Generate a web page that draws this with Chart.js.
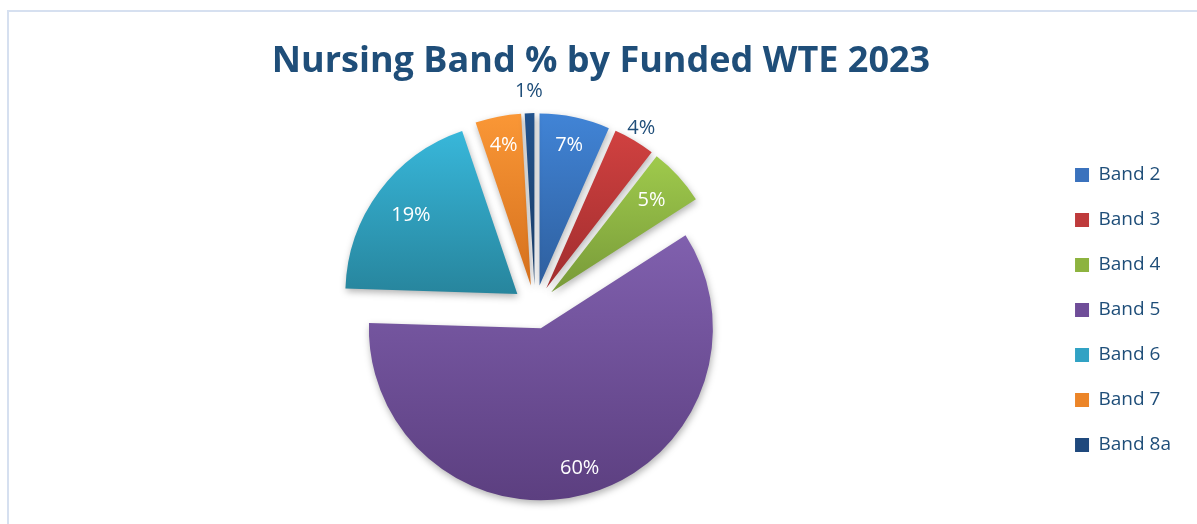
<!DOCTYPE html>
<html lang="en">
<head>
  <meta charset="UTF-8">
  <title>Nursing Band % by Funded WTE 2023</title>
  <script src="https://cdn.jsdelivr.net/npm/chart.js"></script>
  <style>
    body { margin: 0; overflow: hidden; background: #fff; }
    .frame {
      position: absolute;
      left: 7px;
      top: 10px;
      width: 1300px;
      height: 700px;
      border: 2px solid #d6e0f0;
    }
    .wrap { position: absolute; left: 0; top: 0; width: 1197px; height: 550px; }
  </style>
</head>
<body>
<div class="frame"></div>
<div class="wrap">
  <canvas id="myChart" width="1197" height="550"></canvas>
</div>

<script>
  // Data (share of funded WTE, %)
  const categories = ['Band 2', 'Band 3', 'Band 4', 'Band 5', 'Band 6', 'Band 7', 'Band 8a'];
  const shares = [6.6, 3.9, 5.4, 59.6, 19.3, 4.3, 0.9];

  // Styles
  const topColors = ['#4184d6', '#d04140', '#9fca4c', '#8060ae', '#38b7da', '#fa9736', '#22528c'];
  const bottomColors = ['#2e5f9e', '#a12d2e', '#789a39', '#5c3f80', '#27859d', '#d5701d', '#1a3d66'];
  const legendColors = ['#3a72bd', '#be3a3b', '#8db33f', '#6f4d98', '#31a2c4', '#ec8528', '#1f497d'];
  const labelRadius = [0.835, 1.08, 0.79, 0.845, 0.77, 0.83, 1.13];
  const EXPLODE = 22;
  const RADIUS = 172;
  const textBlue = '#1f4e79';

  const total = shares.reduce((a, b) => a + b, 0);

  function sliceAngles(i) {
    let before = 0;
    for (let k = 0; k < i; k++) before += shares[k];
    const a0 = -Math.PI / 2 + before / total * 2 * Math.PI;
    const a1 = a0 + shares[i] / total * 2 * Math.PI;
    return [a0, a1];
  }

  // vertical gradient across each slice, light at top and dark at bottom
  function sliceGradient(c) {
    const chart = c.chart;
    const area = chart.chartArea;
    const i = c.dataIndex;
    if (!area || i === undefined) return legendColors[i || 0];
    const cy = (area.top + area.bottom) / 2;
    const [a0, a1] = sliceAngles(i);
    const mid = (a0 + a1) / 2;
    const oy = cy + Math.sin(mid) * EXPLODE;
    let minY = oy, maxY = oy;
    for (let s = 0; s <= 40; s++) {
      const y = oy + Math.sin(a0 + (a1 - a0) * s / 40) * RADIUS;
      minY = Math.min(minY, y);
      maxY = Math.max(maxY, y);
    }
    const g = chart.ctx.createLinearGradient(0, minY, 0, maxY);
    g.addColorStop(0, topColors[i]);
    g.addColorStop(1, bottomColors[i]);
    return g;
  }

  // pull every slice out along its middle angle
  const explodePlugin = {
    id: 'explode',
    afterDatasetUpdate(chart) {
      chart.getDatasetMeta(0).data.forEach((arc) => {
        const mid = (arc.startAngle + arc.endAngle) / 2;
        arc.x += Math.cos(mid) * EXPLODE;
        arc.y += Math.sin(mid) * EXPLODE;
      });
    }
  };

  const shadowPlugin = {
    id: 'sliceShadow',
    beforeDatasetDraw(chart) {
      const ctx = chart.ctx;
      ctx.save();
      ctx.shadowColor = 'rgba(0, 0, 0, 0.3)';
      ctx.shadowBlur = 7;
      ctx.shadowOffsetX = 1;
      ctx.shadowOffsetY = 3;
    },
    afterDatasetDraw(chart) {
      chart.ctx.restore();
    }
  };

  const percentPlugin = {
    id: 'percentLabels',
    afterDatasetsDraw(chart) {
      const ctx = chart.ctx;
      ctx.save();
      ctx.font = '20px "Open Sans", sans-serif';
      ctx.textAlign = 'center';
      ctx.textBaseline = 'middle';
      chart.getDatasetMeta(0).data.forEach((arc, i) => {
        const mid = (arc.startAngle + arc.endAngle) / 2;
        const r = arc.outerRadius * labelRadius[i];
        ctx.fillStyle = labelRadius[i] > 1 ? textBlue : '#ffffff';
        ctx.fillText(Math.round(shares[i]) + '%', arc.x + Math.cos(mid) * r, arc.y + Math.sin(mid) * r);
      });
      ctx.restore();
    }
  };

  const ctx = document.getElementById('myChart').getContext('2d');

  window.myChartInstance = new Chart(ctx, {
    type: 'pie',
    data: {
      labels: categories,
      datasets: [{
        data: shares,
        backgroundColor: sliceGradient,
        borderWidth: 0,
        radius: RADIUS
      }]
    },
    options: {
      responsive: false,
      animation: false,
      layout: { padding: { left: 21, right: 16, top: 0, bottom: 23 } },
      plugins: {
        tooltip: { enabled: false },
        title: {
          display: true,
          text: 'Nursing Band % by Funded WTE 2023',
          color: textBlue,
          font: { family: '"Open Sans", sans-serif', size: 36, weight: 'bold', lineHeight: 1.2 },
          padding: { top: 40, bottom: 4 }
        },
        legend: {
          position: 'right',
          title: { display: true, text: '', font: { size: 10 }, padding: { top: 0, bottom: 81 } },
          labels: {
            boxWidth: 14,
            boxHeight: 14,
            padding: 26,
            color: textBlue,
            font: { family: '"Open Sans", sans-serif', size: 19 },
            generateLabels: () => categories.map((name, i) => ({
              text: name,
              fillStyle: legendColors[i],
              strokeStyle: legendColors[i],
              lineWidth: 0,
              fontColor: textBlue,
              hidden: false,
              index: i
            }))
          }
        }
      }
    },
    plugins: [explodePlugin, shadowPlugin, percentPlugin]
  });
</script>
</body>
</html>
